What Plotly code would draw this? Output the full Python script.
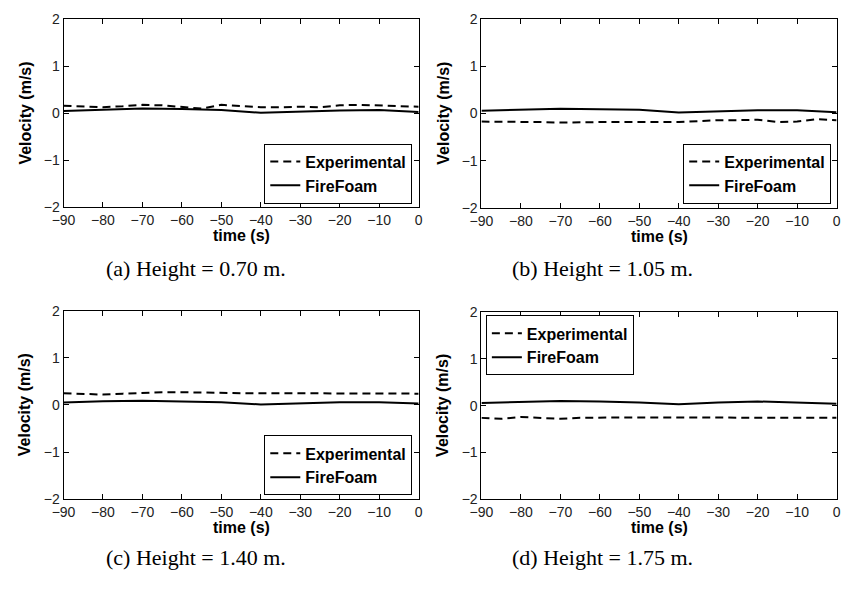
import plotly.graph_objects as go

# Sample times (s)
time_exp = [-90, -85, -80, -75, -70, -65, -60, -55, -50, -45, -40, -35, -30, -25, -20, -15, -10, -5, 0]
time_ff = [-90, -80, -70, -60, -50, -40, -30, -20, -10, 0]

# Measured velocities (m/s) at each height
exp_a = [0.16, 0.15, 0.13, 0.15, 0.18, 0.17, 0.13, 0.10, 0.18, 0.16, 0.13, 0.13, 0.14, 0.13, 0.17, 0.18, 0.17, 0.15, 0.14]
exp_b = [-0.17, -0.17, -0.18, -0.18, -0.19, -0.18, -0.18, -0.18, -0.18, -0.17, -0.18, -0.16, -0.14, -0.14, -0.13, -0.18, -0.17, -0.12, -0.14]
exp_c = [0.25, 0.24, 0.22, 0.24, 0.26, 0.27, 0.27, 0.26, 0.26, 0.25, 0.25, 0.25, 0.25, 0.25, 0.25, 0.25, 0.25, 0.24, 0.24]
exp_d = [-0.26, -0.28, -0.24, -0.26, -0.28, -0.26, -0.25, -0.25, -0.25, -0.25, -0.25, -0.25, -0.25, -0.25, -0.25, -0.25, -0.25, -0.26, -0.26]

# Simulated velocities (m/s)
ff_a = [0.05, 0.08, 0.10, 0.09, 0.07, 0.01, 0.04, 0.06, 0.07, 0.03]
ff_b = [0.06, 0.08, 0.10, 0.09, 0.08, 0.02, 0.05, 0.07, 0.07, 0.03]
ff_c = [0.05, 0.08, 0.09, 0.08, 0.06, 0.01, 0.04, 0.06, 0.06, 0.03]
ff_d = [0.06, 0.08, 0.10, 0.09, 0.07, 0.03, 0.07, 0.09, 0.07, 0.04]

captions = ["(a) Height = 0.70 m.", "(b) Height = 1.05 m.",
            "(c) Height = 1.40 m.", "(d) Height = 1.75 m."]
series_names = ["Experimental", "FireFoam"]
x_ticks = [-90, -80, -70, -60, -50, -40, -30, -20, -10, 0]
y_ticks = [-2, -1, 0, 1, 2]

W, H = 846, 592

# Pixel boxes of each panel: left, right, top, bottom
boxes = [(52.5, 414.5, 11.5, 205), (478.5, 840.5, 11.5, 205.5),
         (52.5, 414.5, 311, 505), (478.5, 840.5, 312.5, 505)]
# Legend anchors: xanchor, yanchor, x px, y px
legend_pos = [("right", "bottom", 408, 201), ("right", "bottom", 835, 201),
              ("right", "bottom", 408, 501), ("left", "top", 483, 316)]
caption_pos = [(188, 268), (602, 268), (188, 565), (602, 565)]

exp_sets = [exp_a, exp_b, exp_c, exp_d]
ff_sets = [ff_a, ff_b, ff_c, ff_d]


def px(x):
    return x / W


def py(y):
    return 1 - y / H


fig = go.Figure()
annotations = []
layout = dict(width=W, height=H, margin=dict(l=0, r=0, t=0, b=0),
              paper_bgcolor="white", plot_bgcolor="white", showlegend=True)

tick_font = dict(family="Liberation Sans, Arial, sans-serif", size=14, color="#222")
bold_font = dict(family="Liberation Sans, Arial, sans-serif", size=16, color="black")

for i in range(4):
    n = "" if i == 0 else str(i + 1)
    leg = "legend" if i == 0 else f"legend{i + 1}"
    l, r, t, b = boxes[i]

    fig.add_trace(go.Scatter(
        x=time_exp, y=exp_sets[i], mode="lines", name=series_names[0],
        line=dict(color="black", width=2, dash="8px,5px"),
        xaxis="x" + n, yaxis="y" + n, legend=leg))
    fig.add_trace(go.Scatter(
        x=time_ff, y=ff_sets[i], mode="lines", name=series_names[1],
        line=dict(color="black", width=2),
        xaxis="x" + n, yaxis="y" + n, legend=leg))

    axis_common = dict(showline=True, linecolor="black", linewidth=1, mirror="ticks",
                       ticks="inside", ticklen=5, tickcolor="black", tickwidth=1,
                       showgrid=False, zeroline=False, tickfont=tick_font)
    layout["xaxis" + n] = dict(axis_common, domain=[px(l), px(r)], anchor="y" + n,
                               range=[-90, 0], tickvals=x_ticks)
    layout["yaxis" + n] = dict(axis_common, domain=[py(b), py(t)], anchor="x" + n,
                               range=[-2, 2], tickvals=y_ticks)

    xanc, yanc, lx, ly = legend_pos[i]
    layout[leg] = dict(x=px(lx), y=py(ly), xanchor=xanc, yanchor=yanc,
                       xref="paper", yref="paper",
                       bgcolor="white", bordercolor="black", borderwidth=1,
                       font=dict(bold_font, weight="bold"), tracegroupgap=0,
                       itemwidth=30)

    # Axis titles
    annotations.append(dict(text="<b>time (s)</b>", x=px((l + r) / 2), y=py(b + 29),
                            xref="paper", yref="paper", showarrow=False,
                            xanchor="center", yanchor="middle", font=bold_font))
    annotations.append(dict(text="<b>Velocity (m/s)</b>", x=px(l - 39), y=py((t + b) / 2),
                            xref="paper", yref="paper", showarrow=False, textangle=-90,
                            xanchor="center", yanchor="middle", font=bold_font))
    # Sub-figure caption
    cx, cy = caption_pos[i]
    annotations.append(dict(text=captions[i], x=px(cx), y=py(cy), xref="paper", yref="paper",
                            showarrow=False, xanchor="center", yanchor="middle",
                            font=dict(family="Liberation Serif, serif", size=22, color="black")))

layout["annotations"] = annotations
fig.update_layout(**layout)
fig.write_html("out.html")
